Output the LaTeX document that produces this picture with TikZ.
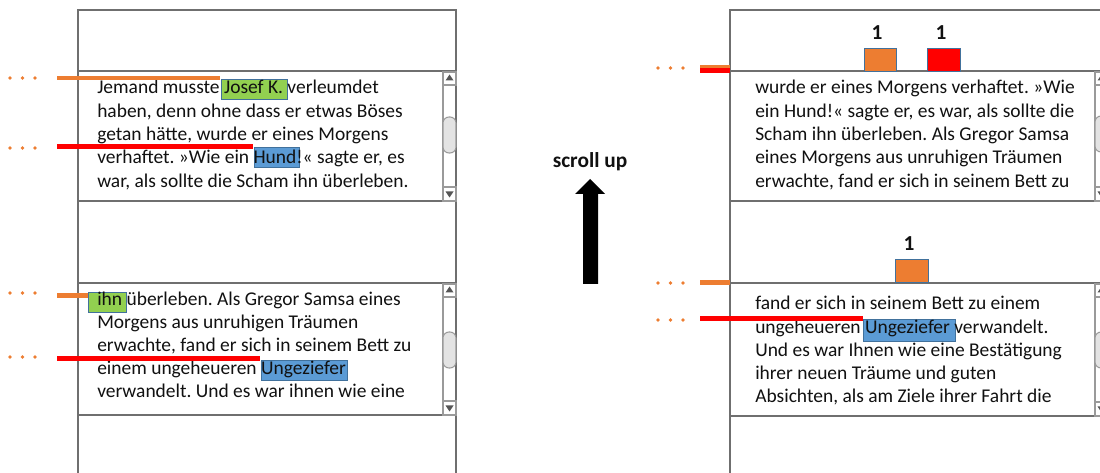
\documentclass[tikz,border=0pt]{standalone}
\usepackage{fontspec}
\setmainfont{Carlito}
\frenchspacing
\definecolor{panelgray}{HTML}{6F6F6F}
\definecolor{sbgray}{HTML}{9A9A9A}
\definecolor{thumbgray}{HTML}{E3E3E3}
\definecolor{arrowgray}{HTML}{555555}
\definecolor{textblack}{HTML}{111111}
\definecolor{markorange}{HTML}{ED7D31}
\definecolor{markred}{HTML}{FF0000}
\definecolor{hlgreen}{HTML}{92D050}
\definecolor{hlblue}{HTML}{5B9BD5}
\definecolor{hlborder}{HTML}{41719C}

% scroll bar of a text box: #1 left x, #2 top y, #3 bottom y, #4 thumb top y
\newcommand{\drawscrollbar}[4]{%
  \draw[sbline] (#1,#2) -- (#1,#3);
  \draw[sbbtn] (#1,#2+1) rectangle (#1+13,#2+14);
  \fill[arrowgray] (#1+6.5,#2+3.5) -- (#1+10.5,#2+9.5) -- (#1+2.5,#2+9.5) -- cycle;
  \draw[sbline, fill=thumbgray, rounded corners=4.5pt] (#1,#4) rectangle (#1+13,#4+36);
  \draw[sbbtn] (#1,#3-14) rectangle (#1+13,#3);
  \fill[arrowgray] (#1+6.5,#3-3.5) -- (#1+10.5,#3-9.5) -- (#1+2.5,#3-9.5) -- cycle;
}

\begin{document}
\begin{tikzpicture}[x=0.75pt,y=-0.75pt,
    panel/.style={draw=panelgray, line width=1.1pt},
    sbline/.style={draw=sbgray, line width=0.8pt},
    sbbtn/.style={draw=sbgray, line width=0.8pt, fill=white},
    txt/.style={anchor=base west, inner sep=0pt, text=textblack,
      font=\fontsize{14.6}{17.5}\selectfont},
    count/.style={inner sep=0pt, text=textblack,
      font=\bfseries\fontsize{16}{19}\selectfont},
    greenhl/.style={fill=hlgreen, draw=hlborder, line width=0.6pt},
    bluehl/.style={fill=hlblue, draw=hlborder, line width=0.6pt},
    orangebar/.style={draw=markorange, line width=3.6pt},
    redbar/.style={draw=markred, line width=3.6pt},
    dotmark/.style={fill=markorange},
    ]
  \useasboundingbox (0,0) rectangle (1100,473);
  \clip (0,0) rectangle (1100,473);

  % ---------- left view ----------
  \draw[panel] (78,10) rectangle (456,500);
  \draw[panel, fill=white] (78,71) rectangle (456,201);
  \draw[panel, fill=white] (78,283) rectangle (456,415);
  \drawscrollbar{443}{71}{201}{117}
  \drawscrollbar{443}{283}{415}{332}

  \fill[greenhl] (221,79) rectangle (287,99);
  \fill[bluehl] (254,147) rectangle (299,167);
  \fill[greenhl] (88,292) rectangle (126,312);
  \fill[bluehl] (261,360) rectangle (347,380);

  \node[txt] (la1) at (97,94)    {Jemand musste Josef K.\ verleumdet};
  \node[txt] (la2) at (97,117.3) {haben, denn ohne dass er etwas Böses};
  \node[txt] (la3) at (97,140.6) {getan hätte, wurde er eines Morgens};
  \node[txt] (la4) at (97,163.9) {verhaftet. »Wie ein Hund!« sagte er, es};
  \node[txt] (la5) at (97,187.2) {war, als sollte die Scham ihn überleben.};

  \node[txt] (lb1) at (97,306)   {ihn überleben. Als Gregor Samsa eines};
  \node[txt] (lb2) at (97,329)   {Morgens aus unruhigen Träumen};
  \node[txt] (lb3) at (97,352)   {erwachte, fand er sich in seinem Bett zu};
  \node[txt] (lb4) at (97,375)   {einem ungeheueren Ungeziefer};
  \node[txt] (lb5) at (97,398)   {verwandelt. Und es war ihnen wie eine};

  % ---------- right view ----------
  \draw[panel] (730,10) rectangle (1108,500);
  \draw[panel, fill=white] (730,71) rectangle (1108,201);
  \draw[panel, fill=white] (730,283) rectangle (1108,416);
  \drawscrollbar{1095}{71}{201}{116}
  \drawscrollbar{1095}{283}{416}{332}

  \fill[fill=markorange, draw=hlborder, line width=0.6pt] (864,48) rectangle (896,71);
  \fill[fill=markred, draw=hlborder, line width=0.6pt] (927,48) rectangle (960,71);
  \fill[fill=markorange, draw=hlborder, line width=0.6pt] (895,259) rectangle (928,282);
  \node[count] (c1) at (877,33)  {1};
  \node[count] (c2) at (941,33)  {1};
  \node[count] (c3) at (909,244) {1};

  \fill[bluehl] (863,319) rectangle (955,341);

  \node[txt] (ra1) at (755,94)    {wurde er eines Morgens verhaftet. »Wie};
  \node[txt] (ra2) at (755,117.3) {ein Hund!« sagte er, es war, als sollte die};
  \node[txt] (ra3) at (755,140.6) {Scham ihn überleben. Als Gregor Samsa};
  \node[txt] (ra4) at (755,163.9) {eines Morgens aus unruhigen Träumen};
  \node[txt] (ra5) at (755,187.2) {erwachte, fand er sich in seinem Bett zu};

  \node[txt] (rb1) at (755,310)    {fand er sich in seinem Bett zu einem};
  \node[txt] (rb2) at (755,333.25) {ungeheueren Ungeziefer verwandelt.};
  \node[txt] (rb3) at (755,356.5)  {Und es war Ihnen wie eine Bestätigung};
  \node[txt] (rb4) at (755,379.75) {ihrer neuen Träume und guten};
  \node[txt] (rb5) at (755,403)    {Absichten, als am Ziele ihrer Fahrt die};

  % ---------- scroll direction ----------
  \node[count] (scroll) at (590,162) {scroll up};
  \fill[black] (590,179) -- (605,194) -- (598,194) -- (598,284)
    -- (583,284) -- (583,194) -- (575,194) -- cycle;

  % ---------- position markers ----------
  \foreach \y in {78,148,293,357} {
    \foreach \x in {10,22.5,35} \fill[dotmark] (\x,\y) circle (1.4pt);
  }
  \foreach \y in {68,283,320} {
    \foreach \x in {658,670.5,683} \fill[dotmark] (\x,\y) circle (1.4pt);
  }
  \draw[orangebar] (57,78) -- (220,78);
  \draw[redbar] (57,146.7) -- (253,146.7);
  \draw[orangebar] (57,295.7) -- (88,295.7);
  \draw[redbar] (57,358.3) -- (260,358.3);

  \draw[orangebar] (700,67.5) -- (730,67.5);
  \draw[redbar] (700,70.5) -- (730,70.5);
  \draw[orangebar] (700,282.3) -- (730,282.3);
  \draw[redbar] (700,318.3) -- (863,318.3);
\end{tikzpicture}
\end{document}
